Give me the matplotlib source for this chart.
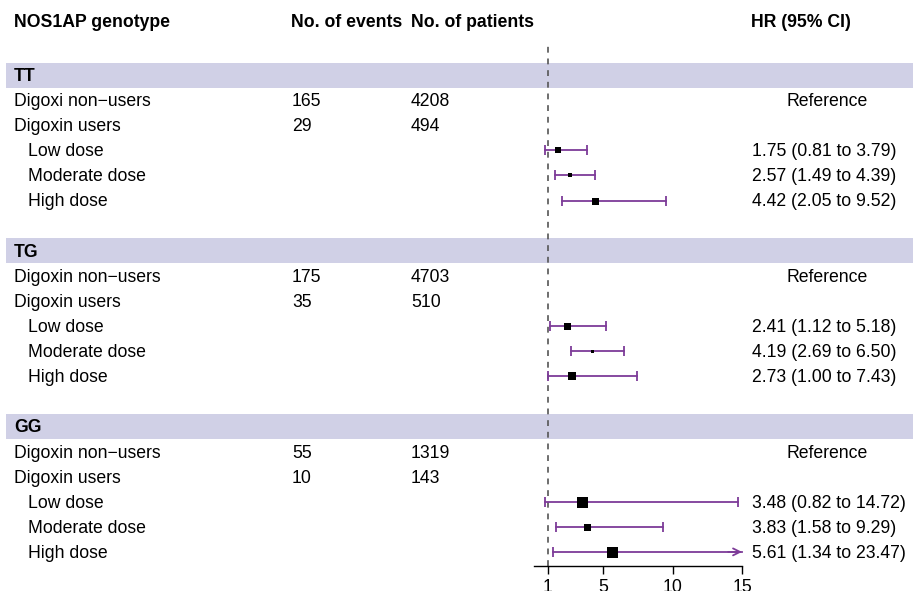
import matplotlib.pyplot as plt

plt.rcParams['font.family'] = ['Liberation Sans', 'DejaVu Sans']

# data
groups = ['TT', 'TG', 'GG']
nonuser_labels = ['Digoxi non\u2212users', 'Digoxin non\u2212users', 'Digoxin non\u2212users']
dose_labels = ['Low dose', 'Moderate dose', 'High dose']
events_non = [165, 175, 55]
patients_non = [4208, 4703, 1319]
events_users = [29, 35, 10]
patients_users = [494, 510, 143]
hr = [[1.75, 2.57, 4.42], [2.41, 4.19, 2.73], [3.48, 3.83, 5.61]]
lo = [[0.81, 1.49, 2.05], [1.12, 2.69, 1.00], [0.82, 1.58, 1.34]]
hi = [[3.79, 4.39, 9.52], [5.18, 6.50, 7.43], [14.72, 9.29, 23.47]]
box_px = [[6, 4, 7], [7, 3, 8], [11, 7, 11]]
xticks = [1, 5, 10, 15]

W, H = 918, 591
ROW0, STEP = 75, 25.1
purple = '#7d3c98'
band = '#d0d0e6'
fs = 12.7
dy = 1.5  # text sits a bit lower than the row centre


def ypix(r):
    return ROW0 + (r - 2) * STEP


fig = plt.figure(figsize=(W / 100, H / 100), dpi=100)
ax = fig.add_axes([0, 0, 1, 1])
ax.set_xlim(0, W)
ax.set_ylim(H, 0)
ax.axis('off')

# header
hy = 21 + dy
ax.text(14, hy, 'NOS1AP genotype', fontsize=fs, fontweight='bold', va='center')
ax.text(291, hy, 'No. of events', fontsize=fs, fontweight='bold', va='center')
ax.text(411, hy, 'No. of patients', fontsize=fs, fontweight='bold', va='center')
ax.text(751, hy, 'HR (95% CI)', fontsize=fs, fontweight='bold', va='center')

# forest axes
fa = fig.add_axes([534 / W, (H - 566) / H, 208 / W, (566 - 42) / H])
fa.set_xlim(0, 15)
fa.set_ylim(566, 42)
fa.patch.set_visible(False)
for s in ['top', 'right', 'left']:
    fa.spines[s].set_visible(False)
fa.spines['bottom'].set_linewidth(1.0)
fa.set_yticks([])
fa.set_xticks(xticks)
fa.set_xticklabels([str(t) for t in xticks])
fa.tick_params(axis='x', length=6, width=1.0, pad=3, labelsize=fs)
fa.axvline(1, color='#555555', lw=1.2, ls=(0, (3.5, 3.5)), zorder=1)

for g in range(len(groups)):
    r = 2 + 7 * g
    y = ypix(r)
    ax.add_patch(plt.Rectangle((6, y - 12.5), 907, 25, color=band, lw=0, zorder=0))
    ax.text(14, y + dy, groups[g], fontsize=fs, fontweight='bold', va='center')

    y1 = ypix(r + 1) + dy
    ax.text(14, y1, nonuser_labels[g], fontsize=fs, va='center')
    ax.text(292, y1, str(events_non[g]), fontsize=fs, va='center')
    ax.text(411, y1, str(patients_non[g]), fontsize=fs, va='center')
    ax.text(827, y1, 'Reference', fontsize=fs, va='center', ha='center')

    y2 = ypix(r + 2) + dy
    ax.text(14, y2, 'Digoxin users', fontsize=fs, va='center')
    ax.text(292, y2, str(events_users[g]), fontsize=fs, va='center')
    ax.text(411, y2, str(patients_users[g]), fontsize=fs, va='center')

    for d in range(3):
        yd = ypix(r + 3 + d)
        ax.text(28, yd + dy, dose_labels[d], fontsize=fs, va='center')
        ax.text(752, yd + dy, '%.2f (%.2f to %.2f)' % (hr[g][d], lo[g][d], hi[g][d]),
                fontsize=fs, va='center')
        right = min(hi[g][d], 15)
        fa.plot([lo[g][d], right], [yd, yd], color=purple, lw=1.3, clip_on=False, zorder=2)
        fa.plot([lo[g][d]], [yd], marker='|', ms=7, mew=1.3, color=purple, clip_on=False, zorder=2)
        if hi[g][d] <= 15:
            fa.plot([right], [yd], marker='|', ms=7, mew=1.3, color=purple, clip_on=False, zorder=2)
        else:
            fa.annotate('', xy=(15, yd), xytext=(14, yd),
                        arrowprops=dict(arrowstyle='->,head_length=0.5,head_width=0.25',
                                        color=purple, lw=1.3, shrinkA=0, shrinkB=0),
                        annotation_clip=False)
        fa.plot([hr[g][d]], [yd], marker='s', ms=box_px[g][d] * 0.72, color='black',
                mew=0, clip_on=False, zorder=3)

fig.savefig('out.png', dpi=100)
